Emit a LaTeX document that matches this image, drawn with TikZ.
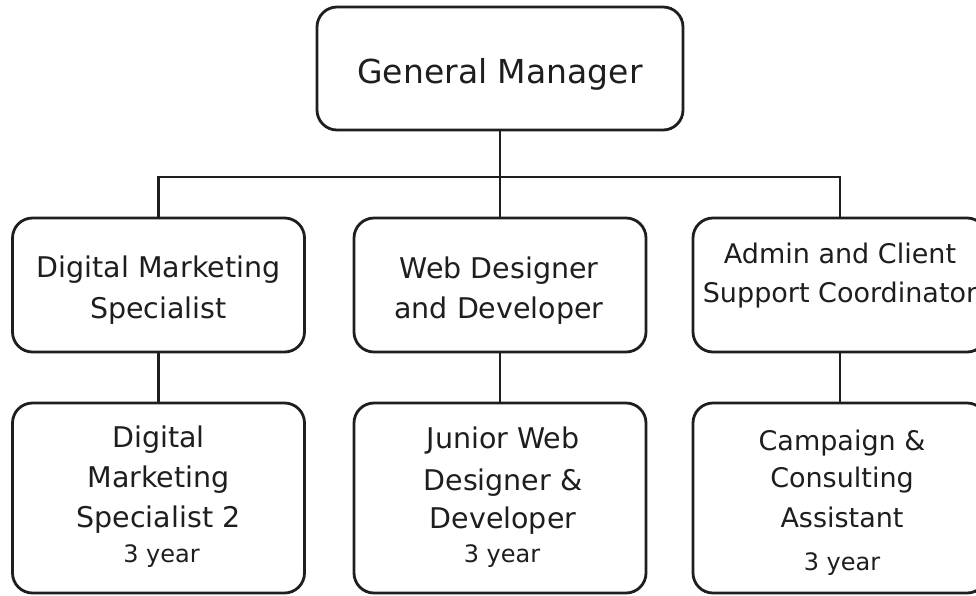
\documentclass[tikz,border=0pt]{standalone}
\usepackage{fontspec}
\setmainfont{DejaVu Sans}
\definecolor{ink}{HTML}{1E1E1E}
\begin{document}
\begin{tikzpicture}[x=1pt,y=-1pt,
  box/.style={draw=ink, line width=2.8pt, rounded corners=20pt, fill=white, inner sep=0pt},
  toprow/.style={box, minimum width=292pt, minimum height=134pt},
  lowrow/.style={box, minimum width=292pt, minimum height=190pt},
  wire/.style={draw=ink, line width=2.8pt},
  lbl/.style={anchor=base, inner sep=0pt, text=ink, font=\fontsize{28.5}{34}\selectfont},
  lblsm/.style={lbl, font=\fontsize{27}{32}\selectfont},
  lblyr/.style={lbl, font=\fontsize{24}{29}\selectfont},
  lblbig/.style={lbl, font=\fontsize{33}{40}\selectfont}]
\clip (0,0) rectangle (976,595);
\fill[white] (0,0) rectangle (976,595);

% bus where the three branches meet
\coordinate (bus) at (500,177);

% boxes
\node[box, minimum width=366pt, minimum height=123pt] (gm) at (500,68.5) {};
\node[toprow] (dms) at (158.5,285) {};
\node[toprow] (wd)  at (500,285) {};
\node[toprow, minimum width=294pt] (acs) at (840,285) {};
\node[lowrow] (dms2) at (158.5,498) {};
\node[lowrow] (jwd)  at (500,498) {};
\node[lowrow, minimum width=294pt] (cca) at (840,498) {};

% connectors
\draw[wire] (gm.south) -- (wd.north);
\draw[wire] (dms.north) |- (bus) -| (acs.north);
\draw[wire] (dms.south) -- (dms2.north);
\draw[wire] (wd.south) -- (jwd.north);
\draw[wire] (acs.south) -- (cca.north);

% texts
\node[lblbig] (t-gm) at (500,83) {General Manager};

\node[lbl] (t-dms1) at (158.5,277) {Digital Marketing};
\node[lbl] (t-dms2) at (158.5,318) {Specialist};

\node[lbl] (t-wd1) at (499,278) {Web Designer};
\node[lbl] (t-wd2) at (499,318) {and Developer};

\node[lblsm] (t-acs1) at (840,263) {Admin and Client};
\node[lblsm] (t-acs2) at (840,302) {Support Coordinator};

\node[lbl] (t-b11) at (158.5,447) {Digital};
\node[lbl] (t-b12) at (158.5,487) {Marketing};
\node[lbl] (t-b13) at (158.5,527) {Specialist 2};
\node[lblyr] (t-b14) at (161.5,562) {3 year};

\node[lbl] (t-b21) at (503,448) {Junior Web};
\node[lbl] (t-b22) at (503,490) {Designer \&};
\node[lbl] (t-b23) at (503,528) {Developer};
\node[lblyr] (t-b24) at (502,562) {3 year};

\node[lblsm] (t-b31) at (842,450) {Campaign \&};
\node[lblsm] (t-b32) at (842,487) {Consulting};
\node[lblsm] (t-b33) at (842,527) {Assistant};
\node[lblyr] (t-b34) at (842,570) {3 year};
\end{tikzpicture}
\end{document}
